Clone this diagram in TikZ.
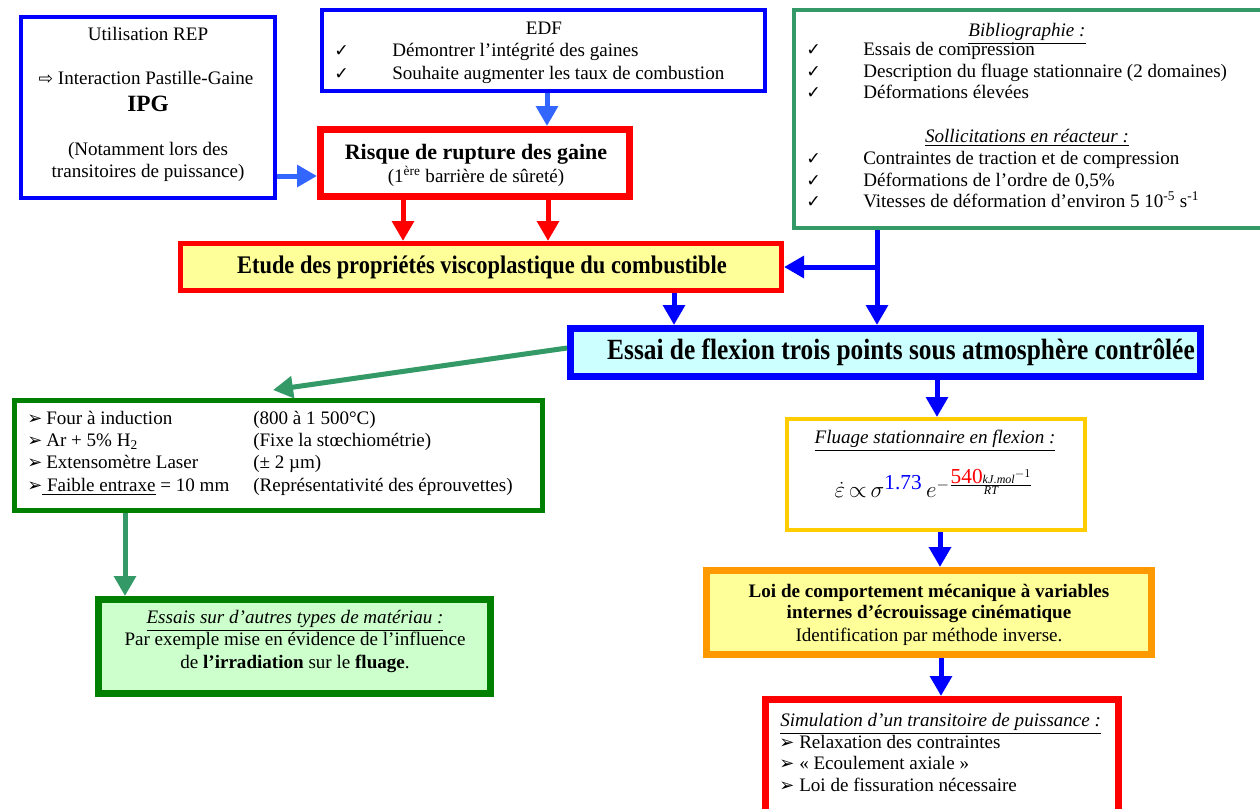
\documentclass[tikz,border=0pt]{standalone}
\usepackage{fontspec}
\setmainfont{Liberation Serif}
\newfontfamily\dv{DejaVu Sans}
\usepackage{amsmath}
\usetikzlibrary{arrows.meta,fit}
\definecolor{bl}{RGB}{0,0,255}
\definecolor{lbl}{RGB}{51,102,255}
\definecolor{rd}{RGB}{255,0,0}
\definecolor{sg}{RGB}{51,153,102}
\definecolor{dg}{RGB}{0,128,0}
\definecolor{gold}{RGB}{255,204,0}
\definecolor{org}{RGB}{255,153,0}
\definecolor{lyel}{RGB}{255,255,153}
\definecolor{lcyan}{RGB}{204,255,255}
\definecolor{lgrn}{RGB}{204,255,204}
\newcommand{\chk}{{\dv\fontsize{13}{13}\selectfont ✓}}
\newcommand{\bul}{{\dv\fontsize{13.5}{13}\selectfont ➢}}
\newcommand{\rarr}{{\dv\fontsize{13}{13}\selectfont ⇨}}
\tikzset{
  box/.style={rectangle, inner sep=0pt, fit={#1}},
  txt/.style={inner sep=0pt, yshift=-2pt, font=\fontsize{14.3}{16.5}\selectfont},
  lt/.style={txt, anchor=mid west},
  ct/.style={txt, anchor=mid},
  arr/.style={line width=3.75pt, -{Triangle[width=16pt,length=15pt]}},
}
\begin{document}
\begin{tikzpicture}[x=0.75pt,y=-0.75pt]
\useasboundingbox (0,0) rectangle (1260,808);

% ---------- boxes ----------
\node[box={(21,17) (275,198)}, draw=bl, line width=3pt] (rep) {};
\node[box={(322,10) (765,91)}, draw=bl, line width=3pt] (edf) {};
\node[box={(320.5,129.5) (629.5,196.5)}, draw=rd, line width=5.25pt] (risque) {};
\node[box={(794,10) (1266,228)}, draw=sg, line width=3pt] (biblio) {};
\node[box={(180.5,243.5) (781.5,290.5)}, draw=rd, fill=lyel, line width=3.75pt] (etude) {};
\node[box={(570.5,328.5) (1200.5,376.5)}, draw=bl, fill=lcyan, line width=5.25pt] (essai) {};
\node[box={(14.5,400.5) (542.5,510.5)}, draw=dg, line width=3.75pt] (four) {};
\node[box={(98.5,599.5) (490.5,693.5)}, draw=dg, fill=lgrn, line width=5.25pt] (autres) {};
\node[box={(787,419) (1085,530)}, draw=gold, line width=3pt] (fluage) {};
\node[box={(706.5,570.5) (1151.5,654.5)}, draw=org, fill=lyel, line width=5.25pt] (loi) {};
\node[box={(765.5,699.5) (1118.5,814)}, draw=rd, line width=5.25pt] (simu) {};

% ---------- texts ----------
\node[ct] (rep1) at (148,35) {Utilisation REP};
\node[ct] (rep2) at (146,79) {\rarr\ Interaction Pastille-Gaine};
\node[ct, font=\fontsize{17.5}{18}\selectfont\bfseries] (rep3) at (148,106) {IPG};
\node[ct] (rep4) at (148,150) {(Notamment lors des};
\node[ct] (rep5) at (148,172) {transitoires de puissance)};

\node[ct] (edf0) at (544,29) {EDF};
\node[lt] (edfc1) at (334,51) {\chk};
\node[lt] (edf1) at (392,51) {Démontrer l’intégrité des gaines};
\node[lt] (edfc2) at (334,74) {\chk};
\node[lt] (edf2) at (392,74) {Souhaite augmenter les taux de combustion};

\node[ct, font=\fontsize{16.5}{18}\selectfont\bfseries] (ris1) at (476,154) {Risque de rupture des gaine};
\node[ct] (ris2) at (476,177) {(1\textsuperscript{ère} barrière de sûreté)};

\node[ct] (bt1) at (1027,31) {\underline{\textit{Bibliographie :}}};
\node[lt] (bc1) at (806,50) {\chk};
\node[lt] (b1) at (863,50) {Essais de compression};
\node[lt] (bc2) at (806,72) {\chk};
\node[lt] (b2) at (863,72) {Description du fluage stationnaire (2 domaines)};
\node[lt] (bc3) at (806,93) {\chk};
\node[lt] (b3) at (863,93) {Déformations élevées};
\node[ct] (bt2) at (1027,137) {\underline{\textit{Sollicitations en réacteur :}}};
\node[lt] (bc4) at (806,159) {\chk};
\node[lt] (b4) at (863,159) {Contraintes de traction et de compression};
\node[lt] (bc5) at (806,181) {\chk};
\node[lt] (b5) at (863,181) {Déformations de l’ordre de 0,5\%};
\node[lt] (bc6) at (806,202) {\chk};
\node[lt] (b6) at (863,202) {Vitesses de déformation d’environ 5 10\textsuperscript{-5} s\textsuperscript{-1}};

\node[ct] (et) at (482,268) {\scalebox{0.885}[1]{\fontsize{19}{20}\selectfont\bfseries Etude des propriétés viscoplastique du combustible}};
\node[ct] (es) at (901,354) {\scalebox{0.865}[1]{\fontsize{22}{24}\selectfont\bfseries Essai de flexion trois points sous atmosphère contrôlée}};

\node[lt] (fb1) at (27,419) {\bul};
\node[lt] (f1) at (46,419) {Four à induction};
\node[lt] (fr1) at (253,419) {(800 à 1 500°C)};
\node[lt] (fb2) at (27,441) {\bul};
\node[lt] (f2) at (46,441) {Ar + 5\% H\textsubscript{2}};
\node[lt] (fr2) at (253,441) {(Fixe la stœchiométrie)};
\node[lt] (fb3) at (27,463) {\bul};
\node[lt] (f3) at (46,463) {Extensomètre Laser};
\node[lt] (fr3) at (253,463) {(± 2 µm)};
\node[lt] (fb4) at (27,486) {\bul};
\node[lt] (f4) at (42,486) {\underline{\ Faible entraxe} = 10 mm};
\node[lt] (fr4) at (253,486) {(Représentativité des éprouvettes)};

\node[ct] (a1) at (295,618) {\underline{\textit{Essais sur d’autres types de matériau :}}};
\node[ct] (a2) at (295,640) {Par exemple mise en évidence de l’influence};
\node[ct] (a3) at (295,663) {de \textbf{l’irradiation} sur le \textbf{fluage}.};

\node[ct] (fl1) at (935,438) {\underline{\textit{Fluage stationnaire en flexion :}}};
\node[ct, font=\fontsize{18}{18}\selectfont] (fl2) at (934,492) {$\dot{\varepsilon}\,{\propto}\,\sigma^{\text{\fontsize{16}{16}\selectfont\color{bl}1.73}}\,e^{-\frac{\text{\fontsize{16}{16}\selectfont\color{rd}540}\mathit{kJ.mol}^{-1}}{\mathit{RT}}}$};

\node[ct, font=\fontsize{14.3}{16.5}\selectfont\bfseries] (l1) at (929,592) {Loi de comportement mécanique à variables};
\node[ct, font=\fontsize{14.3}{16.5}\selectfont\bfseries] (l2) at (929,613) {internes d’écrouissage cinématique};
\node[ct] (l3) at (929,636) {Identification par méthode inverse.};

\node[lt] (s0) at (780,721) {\underline{\textit{Simulation d’un transitoire de puissance :}}};
\node[lt] (sb1) at (779,743) {\bul};
\node[lt] (s1) at (799,743) {Relaxation des contraintes};
\node[lt] (sb2) at (779,764) {\bul};
\node[lt] (s2) at (799,764) {« Ecoulement axiale »};
\node[lt] (sb3) at (779,786) {\bul};
\node[lt] (s3) at (799,786) {Loi de fissuration nécessaire};

% ---------- connectors ----------
\draw[arr, lbl] (rep.east |- 0,176) -- (risque.west |- 0,176);
\draw[arr, lbl] (edf.south -| 547,0) -- (risque.north -| 547,0);
\draw[arr, rd] (risque.south -| 403,0) -- (etude.north -| 403,0);
\draw[arr, rd] (risque.south -| 548,0) -- (etude.north -| 548,0);
\coordinate (bj) at (877,267);
\coordinate (fourtip) at (273,390);
\draw[line width=3.75pt, bl] (biblio.south -| bj) -- (bj);
\draw[arr, bl] (bj) -- (etude.east |- bj);
\draw[arr, bl] (bj) -- (essai.north -| bj);
\draw[arr, bl] (etude.south -| 674,0) -- (essai.north -| 674,0);
\draw[arr, sg] (essai.west |- 0,348) -- (fourtip);
\draw[arr, bl] (essai.south -| 937,0) -- (fluage.north -| 937,0);
\draw[arr, bl] (fluage.south -| 940,0) -- (loi.north -| 940,0);
\draw[arr, bl] (loi.south -| 941,0) -- (simu.north -| 941,0);
\draw[arr, sg] (four.south -| 125,0) -- (autres.north -| 125,0);
\end{tikzpicture}
\end{document}
